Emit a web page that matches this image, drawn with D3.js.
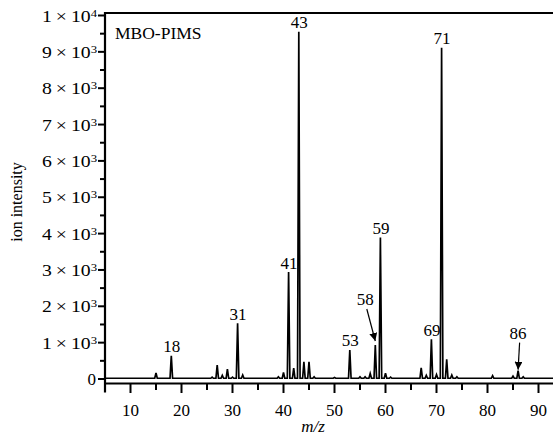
<!DOCTYPE html>
<html>
<head>
  <meta charset="utf-8">
  <script src="https://d3js.org/d3.v7.min.js"></script>
  <style>
    body { margin: 0; background: #fff; }
    svg text { font-family: "Liberation Serif", "Times New Roman", serif; fill: #000; }
  </style>
</head>
<body>
  <svg id="chart" width="553" height="436"></svg>
  <script>
    // peaks (m/z, ion intensity)
    const peakMz = [15, 18, 26, 27, 28, 29, 30, 31, 32, 39, 40, 41, 42, 43, 44, 45, 46, 50, 53, 55, 56, 57, 58, 59, 60, 61, 67, 68, 69, 70, 71, 72, 73, 74, 81, 85, 86, 87];
    const peakInt = [170, 640, 50, 385, 100, 275, 50, 1530, 110, 60, 180, 2940, 300, 9550, 470, 470, 60, 40, 800, 60, 60, 150, 935, 3890, 160, 50, 310, 100, 1090, 120, 9115, 540, 110, 60, 90, 80, 230, 60];
    const baseLevel = 20;

    // annotated peaks
    const labelMz = [18, 31, 41, 43, 53, 58, 59, 69, 71, 86];
    const arrowMz = [58, 86];

    const yTicks = [0, 1000, 2000, 3000, 4000, 5000, 6000, 7000, 8000, 9000, 10000];
    const xTicks = [10, 20, 30, 40, 50, 60, 70, 80, 90];

    const svg = d3.select("#chart");
    const mLeft = 105, mTop = 13, mBottom = 383.5, mRight = 553;

    const x = d3.scaleLinear().domain([5, 93]).range([105, 553.8]);
    const y = d3.scaleLinear().domain([0, 10000]).range([379, 15.5]);

    // build spectrum trace
    const pts = [[5, baseLevel]];
    peakMz.forEach((m, i) => {
      pts.push([m - 0.25, baseLevel], [m, peakInt[i]], [m + 0.25, baseLevel]);
    });
    pts.push([93, baseLevel]);

    svg.append("path")
      .datum(pts)
      .attr("fill", "none")
      .attr("stroke", "#000")
      .attr("stroke-width", 1.7)
      .attr("d", d3.line().x(d => x(d[0])).y(d => y(d[1])));

    // frame
    svg.append("line").attr("x1", mLeft).attr("x2", mRight).attr("y1", mTop).attr("y2", mTop)
      .attr("stroke", "#000").attr("stroke-width", 2);

    // y axis
    const yAxis = svg.append("g").attr("transform", `translate(${mLeft},0)`);
    yAxis.append("line").attr("x1", 0).attr("x2", 0).attr("y1", mTop - 1).attr("y2", mBottom + 9)
      .attr("stroke", "#000").attr("stroke-width", 2.2);
    d3.range(0, 10001, 500).forEach(v => {
      const major = v % 1000 === 0;
      yAxis.append("line").attr("x1", major ? -7 : -5).attr("x2", 0)
        .attr("y1", y(v)).attr("y2", y(v)).attr("stroke", "#000").attr("stroke-width", 2);
    });
    yTicks.forEach(v => {
      const t = yAxis.append("text").attr("x", -8).attr("y", y(v)).attr("dy", "0.36em")
        .attr("text-anchor", "end").attr("font-size", 17);
      if (v === 0) { t.attr("x", -9).text("0"); return; }
      const e = Math.floor(Math.log10(v) + 1e-9);
      const m = Math.round(v / Math.pow(10, e));
      t.attr("textLength", 55).attr("lengthAdjust", "spacingAndGlyphs");
      t.append("tspan").text(m + "\u2009\u00d7\u200910");
      t.append("tspan").attr("dy", "-0.45em").attr("font-size", 11).text(e);
    });

    // x axis
    const xAxis = svg.append("g").attr("transform", `translate(0,${mBottom})`);
    xAxis.append("line").attr("x1", mLeft - 1).attr("x2", mRight).attr("y1", 0).attr("y2", 0)
      .attr("stroke", "#000").attr("stroke-width", 2.2);
    d3.range(10, 93, 5).forEach(v => {
      const major = v % 10 === 0;
      xAxis.append("line").attr("x1", x(v)).attr("x2", x(v)).attr("y1", 0).attr("y2", major ? 9.5 : 6.5)
        .attr("stroke", "#000").attr("stroke-width", 2);
    });
    xTicks.forEach(v => {
      xAxis.append("text").attr("x", x(v)).attr("y", 32.5).attr("text-anchor", "middle")
        .attr("font-size", 17).text(v);
    });

    // axis titles
    svg.append("text").attr("x", 313).attr("y", 432).attr("text-anchor", "middle")
      .attr("font-size", 17).attr("font-style", "italic").text("m/z");
    svg.append("text").attr("transform", "translate(22,202) rotate(-90)").attr("text-anchor", "middle")
      .attr("font-size", 16).text("ion intensity");

    svg.append("text").attr("x", 115).attr("y", 39).attr("font-size", 17.5).text("MBO-PIMS");

    // arrow marker
    svg.append("defs").append("marker")
      .attr("id", "arrow").attr("viewBox", "0 0 10 10").attr("refX", 10).attr("refY", 5)
      .attr("markerWidth", 8).attr("markerHeight", 8).attr("markerUnits", "userSpaceOnUse")
      .attr("orient", "auto")
      .append("path").attr("d", "M0,0 L10,5 L0,10 Z").attr("fill", "#000");

    // peak labels
    labelMz.forEach(m => {
      const h = peakInt[peakMz.indexOf(m)];
      const px = x(m), py = y(h);
      if (arrowMz.includes(m)) {
        const lx = m === 58 ? px - 10 : px;
        const ly = m === 58 ? py - 40 : py - 32;
        svg.append("text").attr("x", lx).attr("y", ly).attr("text-anchor", "middle")
          .attr("font-size", 17).text(m);
        svg.append("line").attr("x1", lx + 1.5).attr("y1", ly + 4)
          .attr("x2", px).attr("y2", py - (m === 58 ? 4 : 1))
          .attr("stroke", "#000").attr("stroke-width", 1.2).attr("marker-end", "url(#arrow)");
      } else {
        svg.append("text").attr("x", px + 0.5).attr("y", py - 3.5).attr("text-anchor", "middle")
          .attr("font-size", 17).text(m);
      }
    });
  </script>
</body>
</html>
